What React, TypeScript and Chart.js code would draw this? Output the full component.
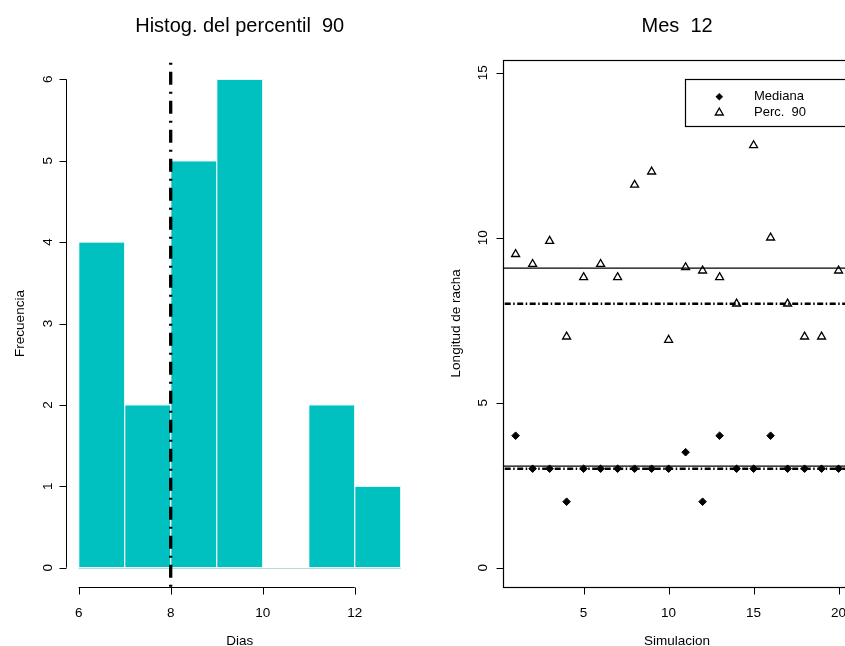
import React, { useEffect, useRef } from 'react';
import { Chart, registerables } from 'chart.js';

Chart.register(...registerables);

// ---------- Left panel: histogram ----------
const histTitle = 'Histog. del percentil  90';
const histXLabel = 'Dias';
const histYLabel = 'Frecuencia';
const binEdges = [6, 7, 8, 9, 10, 11, 12, 13];
const binCounts = [4, 2, 5, 6, 0, 2, 1];
const histXTicks = [6, 8, 10, 12];
const histYTicks = [0, 1, 2, 3, 4, 5, 6];
const histRefLine = 8;

// ---------- Right panel: scatter ----------
const scatTitle = 'Mes  12';
const scatXLabel = 'Simulacion';
const scatYLabel = 'Longitud de racha';
const simulations = [1, 2, 3, 4, 5, 6, 7, 8, 9, 10, 11, 12, 13, 14, 15, 16, 17, 18, 19, 20];
const medianas = [4, 3, 3, 2, 3, 3, 3, 3, 3, 3, 3.5, 2, 4, 3, 3, 4, 3, 3, 3, 3];
const perc90 = [9.5, 9.2, 9.9, 7, 8.8, 9.2, 8.8, 11.6, 12, 6.9, 9.1, 9.0, 8.8, 8, 12.8, 10, 8, 7, 7, 9.0];
const scatXTicks = [5, 10, 15, 20];
const scatYTicks = [0, 5, 10, 15];
const refMediana = 3;
const refPerc90 = 8;
const legendLabels = ['Mediana', 'Perc.  90'];

const FONT = '"Liberation Sans", Arial, Helvetica, sans-serif';
const BAR_FILL = '#00C0C0';
const BAR_EDGE = '#e4f6f6';
const BAR_BASE = '#b5d9d9';

const mean = (a: number[]) => a.reduce((s, v) => s + v, 0) / a.length;
const crisp = (v: number) => Math.round(v) + 0.5;

function rotText(ctx: CanvasRenderingContext2D, text: string, x: number, y: number) {
  ctx.save();
  ctx.translate(x, y);
  ctx.rotate(-Math.PI / 2);
  ctx.textAlign = 'center';
  ctx.textBaseline = 'alphabetic';
  ctx.fillText(text, 0, 0);
  ctx.restore();
}

const leftPlugin = {
  id: 'rHistAxes',
  afterDatasetsDraw(chart: any) {
    const { ctx, chartArea: a, scales } = chart;
    const x = scales.x, y = scales.y;
    ctx.save();
    const y0 = y.getPixelForValue(0);
    ctx.strokeStyle = BAR_BASE;
    ctx.lineWidth = 1;
    ctx.beginPath();
    ctx.moveTo(x.getPixelForValue(binEdges[0]), crisp(y0));
    ctx.lineTo(x.getPixelForValue(binEdges[binEdges.length - 1]), crisp(y0));
    ctx.stroke();
    const xr = x.getPixelForValue(histRefLine);
    ctx.strokeStyle = '#000';
    ctx.lineWidth = 3.3;
    ctx.lineCap = 'butt';
    ctx.setLineDash([13, 7, 2, 7]);
    ctx.lineDashOffset = 17;
    ctx.beginPath();
    ctx.moveTo(xr, a.top);
    ctx.lineTo(xr, a.bottom);
    ctx.stroke();
    ctx.restore();
  },
  afterDraw(chart: any) {
    const { ctx, chartArea: a, scales } = chart;
    const x = scales.x, y = scales.y;
    ctx.save();
    ctx.strokeStyle = '#000';
    ctx.fillStyle = '#000';
    ctx.lineWidth = 1;
    ctx.setLineDash([]);
    // x axis
    const yl = crisp(a.bottom);
    ctx.beginPath();
    ctx.moveTo(x.getPixelForValue(histXTicks[0]), yl);
    ctx.lineTo(x.getPixelForValue(histXTicks[histXTicks.length - 1]), yl);
    histXTicks.forEach((t) => {
      const px = crisp(x.getPixelForValue(t));
      ctx.moveTo(px, yl);
      ctx.lineTo(px, yl + 7);
    });
    // y axis
    const xl = crisp(a.left);
    ctx.moveTo(xl, y.getPixelForValue(histYTicks[0]));
    ctx.lineTo(xl, y.getPixelForValue(histYTicks[histYTicks.length - 1]));
    histYTicks.forEach((t) => {
      const py = crisp(y.getPixelForValue(t));
      ctx.moveTo(xl, py);
      ctx.lineTo(xl - 7, py);
    });
    ctx.stroke();
    ctx.font = `13.5px ${FONT}`;
    ctx.textAlign = 'center';
    ctx.textBaseline = 'alphabetic';
    histXTicks.forEach((t) => ctx.fillText(String(t), x.getPixelForValue(t), a.bottom + 30));
    histYTicks.forEach((t) => rotText(ctx, String(t), a.left - 13.5, y.getPixelForValue(t)));
    const cx = (a.left + a.right) / 2;
    const cy = (a.top + a.bottom) / 2;
    ctx.fillText(histXLabel, cx, 645);
    rotText(ctx, histYLabel, 23.5, cy);
    ctx.font = `20px ${FONT}`;
    ctx.fillText(histTitle, cx, 31.5);
    ctx.restore();
  },
};

const rightPlugin = {
  id: 'rScatAxes',
  beforeDatasetsDraw(chart: any) {
    const { ctx, chartArea: a, scales } = chart;
    const y = scales.y;
    ctx.save();
    ctx.beginPath();
    ctx.rect(a.left, a.top, a.right - a.left, a.bottom - a.top);
    ctx.clip();
    ctx.strokeStyle = '#000';
    // solid mean lines
    ctx.lineWidth = 1.2;
    [mean(perc90), mean(medianas)].forEach((v) => {
      const py = y.getPixelForValue(v);
      ctx.beginPath();
      ctx.moveTo(a.left, py);
      ctx.lineTo(a.right, py);
      ctx.stroke();
    });
    // dot-dash reference lines
    ctx.lineWidth = 2.5;
    ctx.lineCap = 'butt';
    ctx.setLineDash([6, 2.5, 1.5, 2.5]);
    [refPerc90, refMediana].forEach((v) => {
      const py = y.getPixelForValue(v);
      ctx.beginPath();
      ctx.moveTo(a.left + 2, py);
      ctx.lineTo(a.right, py);
      ctx.stroke();
    });
    ctx.restore();
  },
  afterDraw(chart: any) {
    const { ctx, chartArea: a, scales, width } = chart;
    const x = scales.x, y = scales.y;
    ctx.save();
    ctx.strokeStyle = '#000';
    ctx.fillStyle = '#000';
    ctx.lineWidth = 1.2;
    ctx.setLineDash([]);
    // box
    ctx.strokeRect(crisp(a.left), crisp(a.top), a.right - a.left, crisp(a.bottom) - crisp(a.top));
    ctx.lineWidth = 1;
    ctx.beginPath();
    const yl = crisp(a.bottom);
    scatXTicks.forEach((t) => {
      const px = crisp(x.getPixelForValue(t));
      ctx.moveTo(px, yl);
      ctx.lineTo(px, yl + 7);
    });
    const xl = crisp(a.left);
    scatYTicks.forEach((t) => {
      const py = crisp(y.getPixelForValue(t));
      ctx.moveTo(xl, py);
      ctx.lineTo(xl - 7, py);
    });
    ctx.stroke();
    ctx.font = `13.5px ${FONT}`;
    ctx.textAlign = 'center';
    ctx.textBaseline = 'alphabetic';
    scatXTicks.forEach((t) => ctx.fillText(String(t), x.getPixelForValue(t), a.bottom + 30));
    scatYTicks.forEach((t) => rotText(ctx, String(t), a.left - 15.5, y.getPixelForValue(t)));
    const cx = (a.left + a.right) / 2;
    const cy = (a.top + a.bottom) / 2;
    ctx.fillText(scatXLabel, cx, 645);
    rotText(ctx, scatYLabel, 29.5, cy);
    ctx.font = `20px ${FONT}`;
    ctx.fillText(scatTitle, cx, 31.5);

    // legend
    const lx = 255.5, ly = 79.5, lh = 47;
    ctx.lineWidth = 1.2;
    ctx.strokeRect(lx, ly, width + 20 - lx, lh);
    const mx = 289.3;
    const rows = [96.7, 112.7];
    const r1 = 3.8;
    ctx.beginPath();
    ctx.moveTo(mx, rows[0] - r1);
    ctx.lineTo(mx + r1, rows[0]);
    ctx.lineTo(mx, rows[0] + r1);
    ctx.lineTo(mx - r1, rows[0]);
    ctx.closePath();
    ctx.fill();
    const r2 = 4.6;
    ctx.lineWidth = 1.3;
    ctx.beginPath();
    ctx.moveTo(mx, rows[1] - r2);
    ctx.lineTo(mx + 0.866 * r2, rows[1] + 0.5 * r2);
    ctx.lineTo(mx - 0.866 * r2, rows[1] + 0.5 * r2);
    ctx.closePath();
    ctx.stroke();
    ctx.font = `13px ${FONT}`;
    ctx.textAlign = 'left';
    ctx.textBaseline = 'middle';
    legendLabels.forEach((l, i) => ctx.fillText(l, 324, rows[i]));
    ctx.restore();
  },
};

export default function App() {
  const leftRef = useRef<HTMLCanvasElement>(null);
  const rightRef = useRef<HTMLCanvasElement>(null);

  useEffect(() => {
    const centers = binCounts.map((_, i) => (binEdges[i] + binEdges[i + 1]) / 2);
    const left = new Chart(leftRef.current!, {
      type: 'bar',
      data: {
        datasets: [
          {
            label: 'Frecuencia',
            data: centers.map((c, i) => ({ x: c, y: binCounts[i] })),
            backgroundColor: BAR_FILL,
            borderColor: BAR_EDGE,
            borderWidth: 1,
            borderSkipped: false,
            barPercentage: 1,
            categoryPercentage: 1,
          } as any,
        ],
      },
      options: {
        animation: false,
        responsive: false,
        maintainAspectRatio: false,
        layout: { padding: { left: 65.8, right: 8.4, top: 59.8, bottom: 58.8 } },
        scales: {
          x: { type: 'linear', min: 5.72, max: 13.28, offset: false, display: false },
          y: { type: 'linear', min: -0.24, max: 6.24, display: false },
        },
        plugins: { legend: { display: false }, tooltip: { enabled: false } },
      },
      plugins: [leftPlugin],
    });

    const right = new Chart(rightRef.current!, {
      type: 'scatter',
      data: {
        datasets: [
          {
            label: legendLabels[0],
            data: simulations.map((s, i) => ({ x: s, y: medianas[i] })),
            pointStyle: 'rectRot',
            pointRadius: 3.8,
            backgroundColor: '#000',
            borderColor: '#000',
            borderWidth: 1,
          },
          {
            label: legendLabels[1],
            data: simulations.map((s, i) => ({ x: s, y: perc90[i] })),
            pointStyle: 'triangle',
            pointRadius: 4.6,
            backgroundColor: 'rgba(0,0,0,0)',
            borderColor: '#000',
            borderWidth: 1.3,
          },
        ],
      },
      options: {
        animation: false,
        responsive: false,
        maintainAspectRatio: false,
        layout: { padding: { left: 72.7, right: 8.5, top: 60, bottom: 59.3 } },
        scales: {
          x: { type: 'linear', min: 0.24, max: 20.76, display: false },
          y: { type: 'linear', min: -0.576, max: 15.385, display: false },
        },
        plugins: { legend: { display: false }, tooltip: { enabled: false } },
      },
      plugins: [rightPlugin],
    });

    return () => {
      left.destroy();
      right.destroy();
    };
  }, []);

  return (
    <div
      style={{
        position: 'absolute',
        left: 0,
        top: 0,
        width: 845,
        height: 646,
        overflow: 'hidden',
        background: '#fff',
      }}
    >
      <canvas
        ref={leftRef}
        width={422}
        height={646}
        style={{ position: 'absolute', left: 0, top: 0, width: 422, height: 646 }}
      />
      <canvas
        ref={rightRef}
        width={430}
        height={646}
        style={{ position: 'absolute', left: 430, top: 0, width: 430, height: 646 }}
      />
    </div>
  );
}
